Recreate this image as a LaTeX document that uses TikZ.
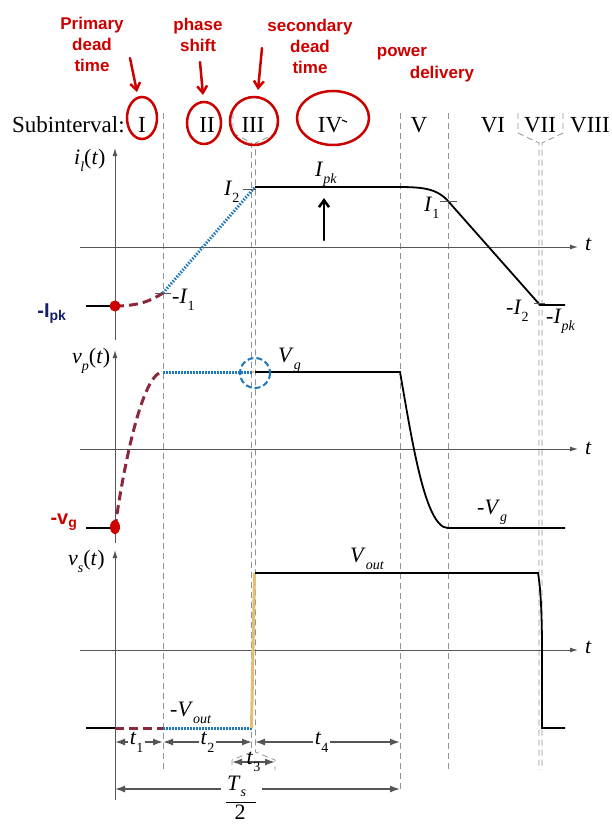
\documentclass[tikz,border=0pt]{standalone}
\usepackage{fontspec}
\setmainfont{Liberation Serif}
\newfontfamily\handfont{Liberation Sans}
\usetikzlibrary{arrows.meta}
\definecolor{maroon}{RGB}{140,40,60}
\definecolor{dotblue}{RGB}{30,120,190}
\definecolor{tanline}{RGB}{228,190,115}
\definecolor{guide}{RGB}{140,148,158}
\definecolor{axisgray}{RGB}{85,85,85}
\definecolor{inkred}{RGB}{205,0,0}
\definecolor{inknavy}{RGB}{20,30,110}
\newcommand\sbs[1]{\raisebox{-0.35em}{\fontsize{14}{14}\selectfont #1}}
\newcommand\vi[1]{\textit{#1}}
\begin{document}
\begin{tikzpicture}[x=1pt,y=-1pt,
  guide/.style={draw=guide, line width=0.8pt, dash pattern=on 6pt off 4pt},
  axis/.style={draw=axisgray, line width=1pt, -{Latex[length=8pt,width=5pt]}},
  wave/.style={draw=black, line width=1.8pt},
  mdash/.style={draw=maroon, line width=3pt, dash pattern=on 9pt off 5pt},
  bdot/.style={draw=dotblue, line width=3pt, dash pattern=on 1.5pt off 1.5pt},
  lbl/.style={font=\fontsize{22}{24}\selectfont, inner sep=0pt, anchor=base west},
  sublbl/.style={font=\fontsize{23}{24}\selectfont, inner sep=0pt, anchor=base},
  dim/.style={draw=axisgray, line width=1.4pt, {Latex[length=10pt,width=7pt]}-{Latex[length=10pt,width=7pt]}},
  dimlbl/.style={font=\fontsize{22}{24}\selectfont, fill=white, inner sep=2pt},
  tickmark/.style={draw=axisgray, line width=1pt},
  ink/.style={draw=inkred, line width=2.5pt, line cap=round},
  inkarrow/.style={ink, -{Straight Barb[length=7pt,width=10pt]}},
  inktext/.style={text=inkred, font=\handfont\bfseries\fontsize{17}{21}\selectfont, align=center, inner sep=0pt},
]
\fill[white] (0,0) rectangle (611,824);
\useasboundingbox (0,0) rectangle (611,824);

% guide lines
\draw[guide] (163,113) -- (163,770);
\draw[guide] (233,113) -- (233,133) -- (251.5,143) -- (251.5,752) -- (232,760) -- (232,770);
\draw[guide] (277,113) -- (277,133) -- (255.5,143) -- (255.5,752) -- (275,760) -- (275,770);
\draw[guide] (400,113) -- (400,790);
\draw[guide] (448,113) -- (448,770);
\draw[guide] (518,113) -- (518,133) -- (539,143) -- (539,770);
\draw[guide] (563,113) -- (563,133) -- (542,143) -- (542,770);

% subinterval row
\node[sublbl, anchor=base west] (sub) at (12,132) {Subinterval:};
\node[sublbl] (s1) at (142,132) {I};
\node[sublbl] (s2) at (207,132) {II};
\node[sublbl] (s3) at (253,132) {III};
\node[sublbl] (s4) at (330,132) {IV};
\node[sublbl] (s5) at (419,132) {V};
\node[sublbl] (s6) at (493,132) {VI};
\node[sublbl] (s7) at (540,132) {VII};
\node[sublbl] (s8) at (590,132) {VIII};

% axes
\draw[axis] (115,340) -- (115,148);
\draw[axis] (80,247) -- (578,247);
\draw[axis] (115,543) -- (115,350);
\draw[axis] (80,449) -- (578,449);
\draw[draw=axisgray, line width=1pt] (115,800) -- (115,560);
\draw[axis] (115,560) -- (115,550);
\draw[axis] (80,650) -- (578,650);
\node[lbl] (t1) at (585,250) {\vi{t}};
\node[lbl] (t2) at (585,454) {\vi{t}};
\node[lbl] (t3) at (585,653) {\vi{t}};

% i_l(t)
\node[lbl] (il) at (74,164) {\vi{i}\sbs{\vi{l}}(\vi{t})};
\draw[wave] (86,306) -- (115,306);
\draw[mdash] (115,306) .. controls (140,306) and (152,300) .. (163,293);
\draw[bdot] (163,293) -- (255,187);
\draw[wave] (255,187) -- (395,187) .. controls (420,187) and (436,187.5) .. (448,201) -- (540,305) -- (565,305);
\draw[tickmark] (243,189) -- (256,189);
\draw[tickmark] (155,293) -- (171,293);
\draw[tickmark] (440,201) -- (457,201);
\draw[tickmark] (534,303) -- (545,303);
\node[lbl] (lI2) at (224,195) {\vi{I}\sbs{2}};
\node[lbl] (lIpk) at (315,176) {\vi{I}\sbs{\vi{pk}}};
\node[lbl] (lmI1) at (172,303) {-\vi{I}\sbs{1}};
\node[lbl] (lI1) at (424,211) {\vi{I}\sbs{1}};
\node[lbl] (lmI2) at (506,314) {-\vi{I}\sbs{2}};
\node[lbl] (lmIpk) at (546,323) {-\vi{I}\sbs{\vi{pk}}};

% v_p(t)
\node[lbl] (vp) at (72,363) {\vi{v}\sbs{\vi{p}}(\vi{t})};
\draw[wave] (86,528) -- (115,528);
\draw[mdash] (115,528) .. controls (123,470) and (142,372) .. (163,372);
\draw[bdot] (163,372) -- (252,372);
\fill[tanline] (253,372) circle (1.5);
\draw[wave] (255,372) -- (400,372) .. controls (412,440) and (425,528) .. (448,528) -- (565,528);
\node[lbl] (lVg) at (278,362) {\vi{V}\sbs{\vi{g}}};
\node[lbl] (lmVg) at (477,514) {-\vi{V}\sbs{\vi{g}}};

% v_s(t)
\node[lbl] (vs) at (68,565) {\vi{v}\sbs{\vi{s}}(\vi{t})};
\draw[wave] (86,728) -- (115,728);
\draw[mdash] (115,728) -- (163,728);
\draw[bdot] (163,728) -- (252,728);
\draw[draw=tanline, line width=3pt] (251.5,728) -- (254.5,573);
\draw[wave] (255,573) -- (538,573) .. controls (541,590) and (542,620) .. (542,650) -- (542,728) -- (565,728);
\node[lbl] (lVout) at (350,562) {\vi{V}\sbs{\vi{out}}};
\node[lbl] (lmVout) at (170,716) {-\vi{V}\sbs{\vi{out}}};

% dimensions
\coordinate (d0) at (115,742);
\coordinate (d1) at (163,742);
\coordinate (d2) at (252,742);
\coordinate (d3) at (255,742);
\coordinate (d4) at (400,742);
\draw[dim] (d0) -- node[dimlbl, pos=0.45] (dt1) {\vi{t}\sbs{1}} (d1);
\draw[dim] (d1) -- node[dimlbl, pos=0.5] (dt2) {\vi{t}\sbs{2}} (d2);
\draw[dim] (d3) -- node[dimlbl, pos=0.46] (dt4) {\vi{t}\sbs{4}} (d4);
\coordinate (e0) at (232,762);
\coordinate (e1) at (275,762);
\draw[dim] (e0) -- node[dimlbl, inner sep=0pt, fill=none] (dt3) {\vi{t}\sbs{3}} (e1);
\coordinate (f0) at (115,789);
\coordinate (f1) at (400,789);
\draw[dim] (f0) -- (f1);
\fill[white] (221,779) rectangle (262,797);
\node[lbl] (lTs) at (227,790) {\vi{T}\raisebox{-0.28em}{\fontsize{14}{14}\selectfont\itshape s}};
\draw[black, line width=0.9pt] (226,802) -- (256,802);
\node[sublbl, font=\fontsize{22}{24}\selectfont] (two) at (240,819) {2};

% handwritten annotations
\draw[ink] (142,118) ellipse (15 and 21);
\draw[ink] (204,123) ellipse (17 and 21);
\draw[ink] (254,121) ellipse (24 and 24);
\draw[ink] (333,118) ellipse (36 and 27);
\draw[line width=1.2pt] (342,120) -- (347,122);
\node[inktext] (hPrim) at (92,44) {Primary\\dead\\time};
\node[inktext] (hPhase) at (198,35) {phase\\shift};
\node[inktext] (hSec) at (310,46) {secondary\\dead\\time};
\node[inktext] (hPow) at (402,54) {power};
\node[inktext] (hDel) at (442,74) {delivery};
\draw[inkarrow] (130,58) -- (137,92);
\draw[inkarrow] (200,62) -- (203,95);
\draw[inkarrow] (262,48) -- (258,90);
\fill[inkred] (115,306) circle (5.5);
\fill[inkred] (115,527) ellipse (5 and 7);
\node[text=inkred, font=\handfont\bfseries\fontsize{20}{20}\selectfont, inner sep=0pt] (hVg) at (64,522) {-v\textsubscript{g}};
\node[text=inknavy, font=\handfont\bfseries\fontsize{20}{20}\selectfont, inner sep=0pt] (hIpk) at (52,314) {-I\textsubscript{pk}};
\draw[draw=dotblue, line width=2pt, dash pattern=on 6pt off 3pt] (255,373) circle (15);
\draw[black, line width=2.5pt, line cap=round, -{Straight Barb[length=7pt,width=10pt]}] (324,240) -- (324,198);
\end{tikzpicture}
\end{document}
